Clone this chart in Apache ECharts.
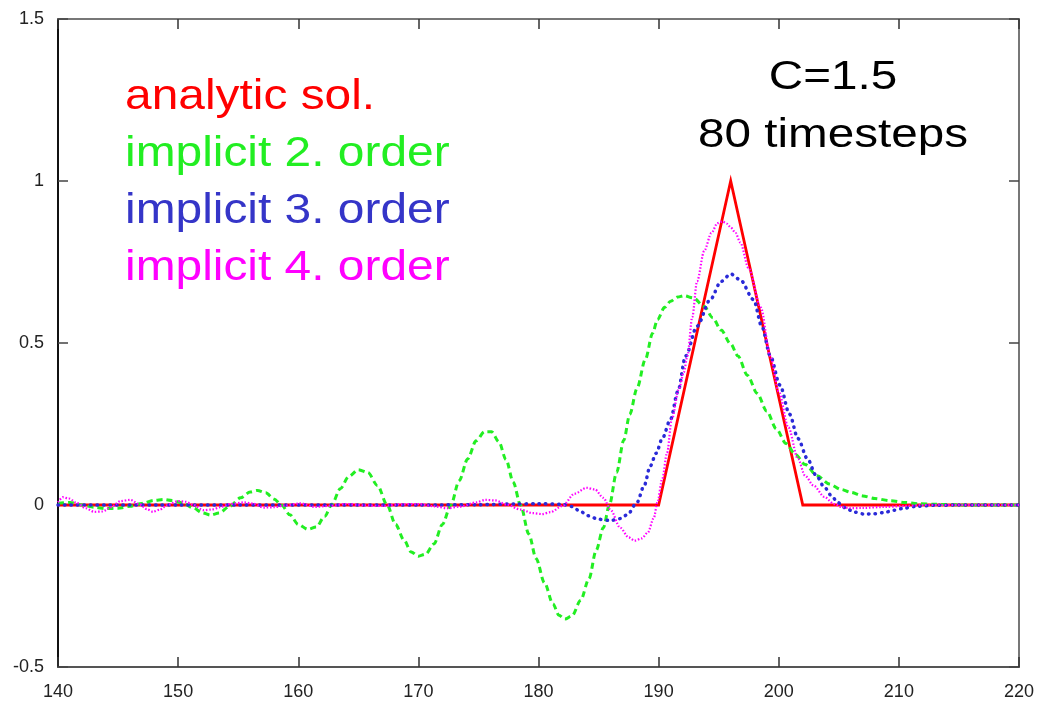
<!DOCTYPE html>
<html>
<head>
<meta charset="utf-8">
<script src="https://cdn.jsdelivr.net/npm/echarts@6/dist/echarts.min.js"></script>
<style>
  html, body { margin: 0; padding: 0; background: #fff; }
  #chart { width: 1039px; height: 701px; }
</style>
</head>
<body>
<div id="chart"></div>
<script>
// Axis ranges and tick spacing
const xRange = [140, 220];
const xStep = 10;
const yRange = [-0.5, 1.5];
const yStep = 0.5;

// Series names (legend text)
const seriesNames = ['analytic sol.', 'implicit 2. order', 'implicit 3. order', 'implicit 4. order'];
const annotation = ['C=1.5', '80 timesteps'];

// Analytic solution: triangular pulse
const analytic = [[140, 0], [190, 0], [196, 1], [202, 0], [220, 0]];

// Implicit scheme, 2nd order
const implicit2 = [
  [140, 0.005], [141, 0.008], [142, 0.0], [143, -0.007], [144, -0.011], [145, -0.01],
  [146, -0.004], [147, 0.005], [148, 0.014], [148.8, 0.017], [149.5, 0.014], [150.4, 0.006],
  [151.3, -0.01], [152, -0.024], [152.7, -0.031], [153.4, -0.025], [154.3, -0.004], [155.2, 0.022],
  [156, 0.04], [156.6, 0.045], [157.3, 0.038], [158, 0.018], [158.6, 0.0], [159.3, -0.03],
  [160, -0.06], [160.8, -0.075], [161.5, -0.068], [162.2, -0.035], [162.8, 0.002], [163.5, 0.05],
  [164.2, 0.088], [165, 0.109], [165.8, 0.1], [166.6, 0.06], [167.4, 0.0], [168.1, -0.06],
  [168.8, -0.108], [169.4, -0.145], [170, -0.158], [170.6, -0.152], [171.3, -0.12], [172, -0.06],
  [172.7, 0.0], [173.4, 0.075], [174.1, 0.142], [174.8, 0.198], [175.5, 0.226], [176.1, 0.226],
  [176.7, 0.195], [177.3, 0.14], [177.9, 0.07], [178.5, 0.0], [179.2, -0.09], [179.8, -0.165],
  [180.5, -0.24], [181.2, -0.305], [181.7, -0.34], [182.2, -0.352], [182.8, -0.342], [183.5, -0.295],
  [184.2, -0.228], [184.8, -0.14], [185.4, -0.07], [185.9, 0.0], [186.5, 0.1], [187.1, 0.2],
  [187.6, 0.28], [188.2, 0.36], [188.9, 0.45], [189.5, 0.53], [189.9, 0.572], [190.5, 0.61],
  [191, 0.629], [191.6, 0.642], [192.1, 0.646], [192.9, 0.639], [193.8, 0.613], [194.5, 0.578],
  [195.2, 0.54], [196, 0.497], [196.6, 0.46], [197.4, 0.4], [198.2, 0.345], [199, 0.29],
  [199.8, 0.235], [200.6, 0.19], [201.4, 0.155], [202.2, 0.125], [203.2, 0.09], [204.2, 0.065],
  [205.2, 0.048], [206, 0.039], [207, 0.028], [208, 0.02], [209.3, 0.013], [210.5, 0.008],
  [211.6, 0.004], [213, 0.002], [216, 0.0], [220, 0.0]
];

// Implicit scheme, 3rd order
const implicit3 = [
  [140, 0.0], [145, 0.0], [150, 0.0], [155, 0.0], [160, 0.0], [165, 0.0], [170, 0.0],
  [175, 0.001], [178, 0.003], [180, 0.004], [182, 0.002], [182.8, -0.005], [183.5, -0.02],
  [184.1, -0.033], [185, -0.044], [186, -0.048], [186.8, -0.042], [187.4, -0.03], [188.2, 0.008],
  [188.8, 0.06], [189.3, 0.12], [189.8, 0.16], [190.3, 0.205], [191, 0.265], [191.6, 0.35],
  [192.25, 0.46], [193.2, 0.552], [194.3, 0.634], [195.2, 0.69], [196, 0.713], [196.8, 0.695],
  [197.9, 0.634], [198.6, 0.55], [199.3, 0.46], [200.1, 0.37], [200.9, 0.28], [201.6, 0.205],
  [202.4, 0.142], [203.1, 0.092], [203.8, 0.055], [204.4, 0.028], [204.9, 0.008], [205.5, -0.008],
  [206.3, -0.022], [207.1, -0.028], [208, -0.027], [208.8, -0.023], [209.6, -0.016], [210.4, -0.01],
  [211.5, -0.004], [213, -0.001], [215, 0.0], [220, 0.0]
];

// Implicit scheme, 4th order
const implicit4 = [
  [140, 0.008], [140.4, 0.024], [140.9, 0.02], [141.6, 0.006], [142.3, -0.01], [143, -0.021],
  [143.7, -0.02], [144.4, -0.007], [145.2, 0.012], [146, 0.016], [146.8, 0.002], [147.4, -0.013],
  [147.9, -0.021], [148.5, -0.014], [149.1, 0.0], [150, 0.012], [150.6, 0.01], [151.3, 0.0],
  [152.1, -0.016], [152.8, -0.014], [153.5, -0.007], [154.3, 0.003], [155.5, 0.008], [156.3, 0.004],
  [157.1, -0.008], [158, -0.007], [158.8, -0.002], [160.2, 0.005], [161.4, -0.006], [162.5, -0.003],
  [164, 0.003], [165.5, -0.001], [167, -0.003], [168.5, 0.002], [170, 0.003], [171.3, -0.004],
  [172.4, -0.01], [173.5, -0.005], [174.8, 0.008], [175.6, 0.016], [176.4, 0.014], [177.3, 0.002],
  [178.5, -0.014], [179.5, -0.025], [180.3, -0.028], [181, -0.022], [182, -0.003], [183, 0.035],
  [184, 0.053], [184.7, 0.048], [185.4, 0.022], [186, -0.015], [186.8, -0.07], [187.5, -0.1],
  [188, -0.11], [188.6, -0.103], [189.1, -0.085], [189.6, -0.04], [189.9, 0.008], [190.3, 0.08],
  [190.7, 0.16], [191.1, 0.265], [191.7, 0.36], [192.1, 0.41], [192.4, 0.46], [192.8, 0.58],
  [193.2, 0.69], [193.8, 0.785], [194.4, 0.84], [194.9, 0.87], [195.3, 0.875], [195.7, 0.868],
  [196, 0.857], [196.4, 0.84], [196.8, 0.81], [197.5, 0.73], [198.5, 0.61], [199.3, 0.46],
  [200, 0.35], [200.8, 0.24], [201.6, 0.142], [202.2, 0.09], [202.9, 0.06], [203.8, 0.025],
  [204.6, 0.003], [205.3, -0.007], [206, -0.01], [207, -0.009], [208.8, -0.006], [210.5, -0.003],
  [212, 0.0], [220, 0.0]
];

const colors = ['#ff0000', '#22ee22', '#2a2ad8', '#ff00ff'];
const legendColors = ['#ff0000', '#22ee22', '#3535c8', '#ff00ff'];

const chart = echarts.init(document.getElementById('chart'), null, { renderer: 'canvas' });

const labelFont = { fontFamily: 'Liberation Sans, Arial, sans-serif', fontSize: 18, color: '#222' };

function frameAxis(common, extra) {
  return Object.assign({}, common, extra);
}

const xCommon = {
  type: 'value', min: xRange[0], max: xRange[1], interval: xStep,
  splitLine: { show: false },
  axisTick: { show: true, inside: true, length: 10, lineStyle: { color: '#333', width: 1.5 } }
};
const yCommon = {
  type: 'value', min: yRange[0], max: yRange[1], interval: yStep,
  splitLine: { show: false },
  axisTick: { show: true, inside: true, length: 10, lineStyle: { color: '#444', width: 1.5 } }
};

const legendSize = 42;
const legendGraphics = seriesNames.map((name, i) => ({
  type: 'text',
  x: 125,
  y: 97 + i * 57,
  scaleX: 1.14,
  style: {
    text: name,
    x: 0, y: 0,
    fill: legendColors[i],
    font: legendSize + 'px "Liberation Sans", Arial, sans-serif',
    align: 'left',
    verticalAlign: 'middle'
  }
}));
const noteGraphics = annotation.map((t, i) => ({
  type: 'text',
  x: 833,
  y: 78 + i * 58,
  scaleX: 1.19,
  style: {
    text: t,
    x: 0, y: 0,
    fill: '#000',
    font: '40px "Liberation Sans", Arial, sans-serif',
    align: 'center',
    verticalAlign: 'middle'
  }
}));

chart.setOption({
  animation: false,
  backgroundColor: '#fff',
  grid: { left: 58, right: 20, top: 19, bottom: 33, containLabel: false },
  xAxis: [
    frameAxis(xCommon, {
      position: 'bottom',
      axisLine: { show: true, onZero: false, lineStyle: { color: '#555', width: 2 } },
      axisLabel: Object.assign({ margin: 16 }, labelFont)
    }),
    frameAxis(xCommon, {
      position: 'top',
      axisLine: { show: true, onZero: false, lineStyle: { color: '#777', width: 2 } },
      axisLabel: { show: false }
    })
  ],
  yAxis: [
    frameAxis(yCommon, {
      position: 'left',
      axisLine: { show: true, onZero: false, lineStyle: { color: '#111', width: 2 } },
      axisLabel: Object.assign({ margin: 14 }, labelFont)
    }),
    frameAxis(yCommon, {
      position: 'right',
      axisLine: { show: true, onZero: false, lineStyle: { color: '#777', width: 2 } },
      axisLabel: { show: false }
    })
  ],
  graphic: legendGraphics.concat(noteGraphics),
  series: [
    {
      name: seriesNames[0], type: 'line', data: analytic, showSymbol: false,
      lineStyle: { color: colors[0], width: 2.8, join: 'miter' }, z: 2
    },
    {
      name: seriesNames[1], type: 'line', data: implicit2, showSymbol: false,
      smooth: 0.3, smoothMonotone: 'x',
      lineStyle: { color: colors[1], width: 3, type: [6, 4] }, z: 3
    },
    {
      name: seriesNames[2], type: 'line', data: implicit3, showSymbol: false,
      smooth: 0.3, smoothMonotone: 'x',
      lineStyle: { color: colors[2], width: 3.5, type: [0.5, 6], cap: 'round' }, z: 4
    },
    {
      name: seriesNames[3], type: 'line', data: implicit4, showSymbol: false,
      smooth: 0.3, smoothMonotone: 'x',
      lineStyle: { color: colors[3], width: 2.2, type: [1.5, 1.8] }, z: 5
    }
  ]
});
</script>
</body>
</html>
